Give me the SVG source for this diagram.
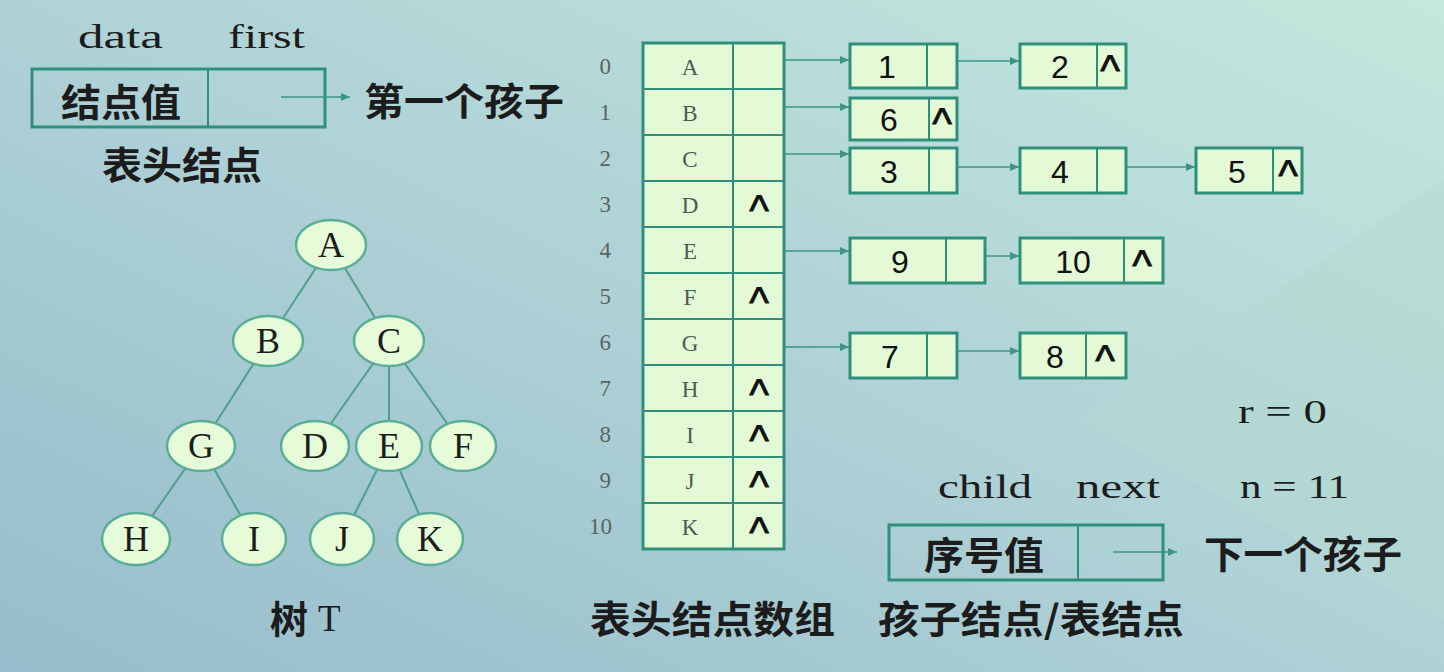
<svg xmlns="http://www.w3.org/2000/svg" width="1444" height="672" viewBox="0 0 1444 672">
<defs>
<linearGradient id="bg" x1="0" y1="1" x2="1" y2="0">
<stop offset="0" stop-color="#98bccb"/>
<stop offset="0.5" stop-color="#aed2d6"/>
<stop offset="1" stop-color="#c4e8dc"/>
</linearGradient>
<marker id="ah" markerUnits="userSpaceOnUse" markerWidth="10" markerHeight="8" refX="9" refY="4" orient="auto">
<path d="M0,0 L9,4 L0,8 z" fill="#3f9484"/>
</marker>
<style>
.cn{font-family:"Noto Sans CJK SC","Noto Sans",sans-serif;font-weight:bold;fill:#1c1c1c;font-size:38px;dominant-baseline:central}
.lat{font-family:"Liberation Serif",serif;fill:#1c1c1c;font-size:34px}
.tl{font-family:"Liberation Serif",serif;fill:#1c1c1c;font-size:36px;text-anchor:middle;dominant-baseline:central}
.ell{fill:#e6fbd8;stroke:#5aae98;stroke-width:2.5}
.edge{stroke:#4f9e8c;stroke-width:2;fill:none}
.idx{font-family:"Liberation Serif",serif;fill:#5a6460;font-size:23px;text-anchor:end;dominant-baseline:central}
.al{font-family:"Liberation Serif",serif;fill:#4d5a55;font-size:23px;text-anchor:middle;dominant-baseline:central}
.nil{font-family:"Liberation Sans",Arial,sans-serif;fill:#111;stroke:#111;stroke-width:0.8;font-size:42px;text-anchor:middle}
.box{fill:#e4fad6;stroke:#2f8f7d;stroke-width:3}
.obox{fill:none;stroke:#2f8f7d;stroke-width:3}
.div{stroke:#2f8f7d;stroke-width:2}
.num{font-family:"Liberation Sans",Arial,sans-serif;fill:#111;font-size:32px;text-anchor:middle;dominant-baseline:central}
.con{stroke:#3f9484;stroke-width:1.6;fill:none}
</style>
</defs>
<rect width="1444" height="672" fill="url(#bg)"/>
<path d="M1444,180 L1080,420 L1444,620 z" fill="#b4dad2" opacity="0.5"/>

<g id="header-legend">
<text class="lat" x="78" y="48" textLength="85" lengthAdjust="spacingAndGlyphs">data</text>
<text class="lat" x="228" y="48" textLength="77" lengthAdjust="spacingAndGlyphs">first</text>
<rect class="obox" x="32" y="69" width="293" height="58"/>
<line class="div" x1="208" y1="69" x2="208" y2="127"/>
<text class="cn" x="61" y="99" textLength="120" lengthAdjust="spacingAndGlyphs">结点值</text>
<text class="cn" x="364" y="98" textLength="200" lengthAdjust="spacingAndGlyphs">第一个孩子</text>
<text class="cn" x="102" y="162" textLength="160" lengthAdjust="spacingAndGlyphs">表头结点</text>
</g>

<g id="connectors">
<line class="con" x1="281" y1="97" x2="350" y2="97" marker-end="url(#ah)"/>
<line class="edge" x1="331" y1="245" x2="268" y2="341"/>
<line class="edge" x1="331" y1="245" x2="389" y2="341"/>
<line class="edge" x1="268" y1="341" x2="201" y2="446"/>
<line class="edge" x1="389" y1="341" x2="315" y2="446"/>
<line class="edge" x1="389" y1="341" x2="389" y2="446"/>
<line class="edge" x1="389" y1="341" x2="463" y2="446"/>
<line class="edge" x1="201" y1="446" x2="136" y2="539"/>
<line class="edge" x1="201" y1="446" x2="254" y2="539"/>
<line class="edge" x1="389" y1="446" x2="342" y2="539"/>
<line class="edge" x1="389" y1="446" x2="430" y2="539"/>
<line class="con" x1="772" y1="60" x2="849" y2="60" marker-end="url(#ah)"/>
<line class="con" x1="772" y1="107" x2="849" y2="107" marker-end="url(#ah)"/>
<line class="con" x1="772" y1="154" x2="849" y2="154" marker-end="url(#ah)"/>
<line class="con" x1="772" y1="251" x2="849" y2="251" marker-end="url(#ah)"/>
<line class="con" x1="772" y1="347" x2="849" y2="347" marker-end="url(#ah)"/>
<line class="con" x1="944" y1="61" x2="1019" y2="61" marker-end="url(#ah)"/>
<line class="con" x1="944" y1="167" x2="1019" y2="167" marker-end="url(#ah)"/>
<line class="con" x1="1112" y1="167" x2="1195" y2="167" marker-end="url(#ah)"/>
<line class="con" x1="946" y1="256" x2="1019" y2="256" marker-end="url(#ah)"/>
<line class="con" x1="944" y1="351" x2="1019" y2="351" marker-end="url(#ah)"/>
<line class="con" x1="1113" y1="552" x2="1177" y2="552" marker-end="url(#ah)"/>
</g>

<g id="tree">
<g id="tA"><ellipse class="ell" cx="331" cy="245" rx="35" ry="25"/><text class="tl" x="331" y="245">A</text></g>
<g id="tB"><ellipse class="ell" cx="268" cy="341" rx="35" ry="25"/><text class="tl" x="268" y="341">B</text></g>
<g id="tC"><ellipse class="ell" cx="389" cy="341" rx="35" ry="25"/><text class="tl" x="389" y="341">C</text></g>
<g id="tG"><ellipse class="ell" cx="201" cy="446" rx="34" ry="25"/><text class="tl" x="201" y="446">G</text></g>
<g id="tD"><ellipse class="ell" cx="315" cy="446" rx="34" ry="25"/><text class="tl" x="315" y="446">D</text></g>
<g id="tE"><ellipse class="ell" cx="389" cy="446" rx="33" ry="25"/><text class="tl" x="389" y="446">E</text></g>
<g id="tF"><ellipse class="ell" cx="463" cy="446" rx="33" ry="25"/><text class="tl" x="463" y="446">F</text></g>
<g id="tH"><ellipse class="ell" cx="136" cy="539" rx="34" ry="26"/><text class="tl" x="136" y="539">H</text></g>
<g id="tI"><ellipse class="ell" cx="254" cy="539" rx="32" ry="26"/><text class="tl" x="254" y="539">I</text></g>
<g id="tJ"><ellipse class="ell" cx="342" cy="539" rx="32" ry="26"/><text class="tl" x="342" y="539">J</text></g>
<g id="tK"><ellipse class="ell" cx="430" cy="539" rx="33" ry="26"/><text class="tl" x="430" y="539">K</text></g>
<text class="cn" x="270" y="616">树</text>
<text class="lat" x="318" y="631" style="font-size:37px">T</text>
</g>

<g id="head-array">
<rect class="box" x="643" y="43" width="141" height="506"/>
<line class="div" x1="733" y1="43" x2="733" y2="549"/>
<g class="div">
<line x1="643" y1="89" x2="784" y2="89"/><line x1="643" y1="135" x2="784" y2="135"/>
<line x1="643" y1="181" x2="784" y2="181"/><line x1="643" y1="227" x2="784" y2="227"/>
<line x1="643" y1="273" x2="784" y2="273"/><line x1="643" y1="319" x2="784" y2="319"/>
<line x1="643" y1="365" x2="784" y2="365"/><line x1="643" y1="411" x2="784" y2="411"/>
<line x1="643" y1="457" x2="784" y2="457"/><line x1="643" y1="503" x2="784" y2="503"/>
</g>
<text class="idx" x="611" y="66">0</text><text class="idx" x="611" y="112">1</text>
<text class="idx" x="611" y="158">2</text><text class="idx" x="611" y="204">3</text>
<text class="idx" x="611" y="250">4</text><text class="idx" x="611" y="296">5</text>
<text class="idx" x="611" y="342">6</text><text class="idx" x="611" y="388">7</text>
<text class="idx" x="611" y="434">8</text><text class="idx" x="611" y="480">9</text>
<text class="idx" x="612" y="526">10</text>
<text class="al" x="690" y="67">A</text><text class="al" x="690" y="113">B</text>
<text class="al" x="690" y="159">C</text><text class="al" x="690" y="205">D</text>
<text class="al" x="690" y="251">E</text><text class="al" x="690" y="297">F</text>
<text class="al" x="690" y="343">G</text><text class="al" x="690" y="389">H</text>
<text class="al" x="690" y="435">I</text><text class="al" x="690" y="481">J</text>
<text class="al" x="690" y="527">K</text>
<text class="nil" x="759" y="225">^</text><text class="nil" x="759" y="317">^</text>
<text class="nil" x="759" y="409">^</text><text class="nil" x="759" y="455">^</text>
<text class="nil" x="759" y="501">^</text><text class="nil" x="759" y="547">^</text>
<text class="cn" x="590" y="616" textLength="245" lengthAdjust="spacingAndGlyphs">表头结点数组</text>
</g>

<g id="n1"><rect class="box" x="850" y="44" width="107" height="44"/><line class="div" x1="927" y1="44" x2="927" y2="88"/><text class="num" x="887" y="67">1</text></g>
<g id="n2"><rect class="box" x="1020" y="44" width="106" height="44"/><line class="div" x1="1097" y1="44" x2="1097" y2="88"/><text class="num" x="1060" y="67">2</text><text class="nil" x="1110" y="85">^</text></g>
<g id="n6"><rect class="box" x="850" y="98" width="107" height="42"/><line class="div" x1="929" y1="98" x2="929" y2="140"/><text class="num" x="889" y="120">6</text><text class="nil" x="942" y="138">^</text></g>
<g id="n3"><rect class="box" x="850" y="148" width="107" height="45"/><line class="div" x1="929" y1="148" x2="929" y2="193"/><text class="num" x="889" y="172">3</text></g>
<g id="n4"><rect class="box" x="1020" y="148" width="106" height="45"/><line class="div" x1="1097" y1="148" x2="1097" y2="193"/><text class="num" x="1060" y="172">4</text></g>
<g id="n5"><rect class="box" x="1196" y="148" width="106" height="45"/><line class="div" x1="1273" y1="148" x2="1273" y2="193"/><text class="num" x="1237" y="172">5</text><text class="nil" x="1288" y="190">^</text></g>
<g id="n9"><rect class="box" x="850" y="238" width="135" height="45"/><line class="div" x1="946" y1="238" x2="946" y2="283"/><text class="num" x="900" y="262">9</text></g>
<g id="n10"><rect class="box" x="1020" y="238" width="143" height="45"/><line class="div" x1="1124" y1="238" x2="1124" y2="283"/><text class="num" x="1073" y="262">10</text><text class="nil" x="1142" y="280">^</text></g>
<g id="n7"><rect class="box" x="850" y="333" width="107" height="45"/><line class="div" x1="927" y1="333" x2="927" y2="378"/><text class="num" x="890" y="357">7</text></g>
<g id="n8"><rect class="box" x="1020" y="333" width="106" height="45"/><line class="div" x1="1086" y1="333" x2="1086" y2="378"/><text class="num" x="1055" y="357">8</text><text class="nil" x="1105" y="375">^</text></g>

<g id="params">
<text class="lat" x="1238" y="423" textLength="89" lengthAdjust="spacingAndGlyphs">r = 0</text>
<text class="lat" x="1240" y="498" textLength="109" lengthAdjust="spacingAndGlyphs">n = 11</text>
</g>

<g id="child-legend">
<text class="lat" x="938" y="498" textLength="94" lengthAdjust="spacingAndGlyphs">child</text>
<text class="lat" x="1076" y="498" textLength="84" lengthAdjust="spacingAndGlyphs">next</text>
<rect class="obox" x="889" y="525" width="274" height="55"/>
<line class="div" x1="1078" y1="525" x2="1078" y2="580"/>
<text class="cn" x="924" y="552" textLength="120" lengthAdjust="spacingAndGlyphs">序号值</text>
<text class="cn" x="1204" y="551" textLength="198" lengthAdjust="spacingAndGlyphs">下一个孩子</text>
<text class="cn" x="878" y="616" textLength="306" lengthAdjust="spacingAndGlyphs">孩子结点/表结点</text>
</g>
</svg>
